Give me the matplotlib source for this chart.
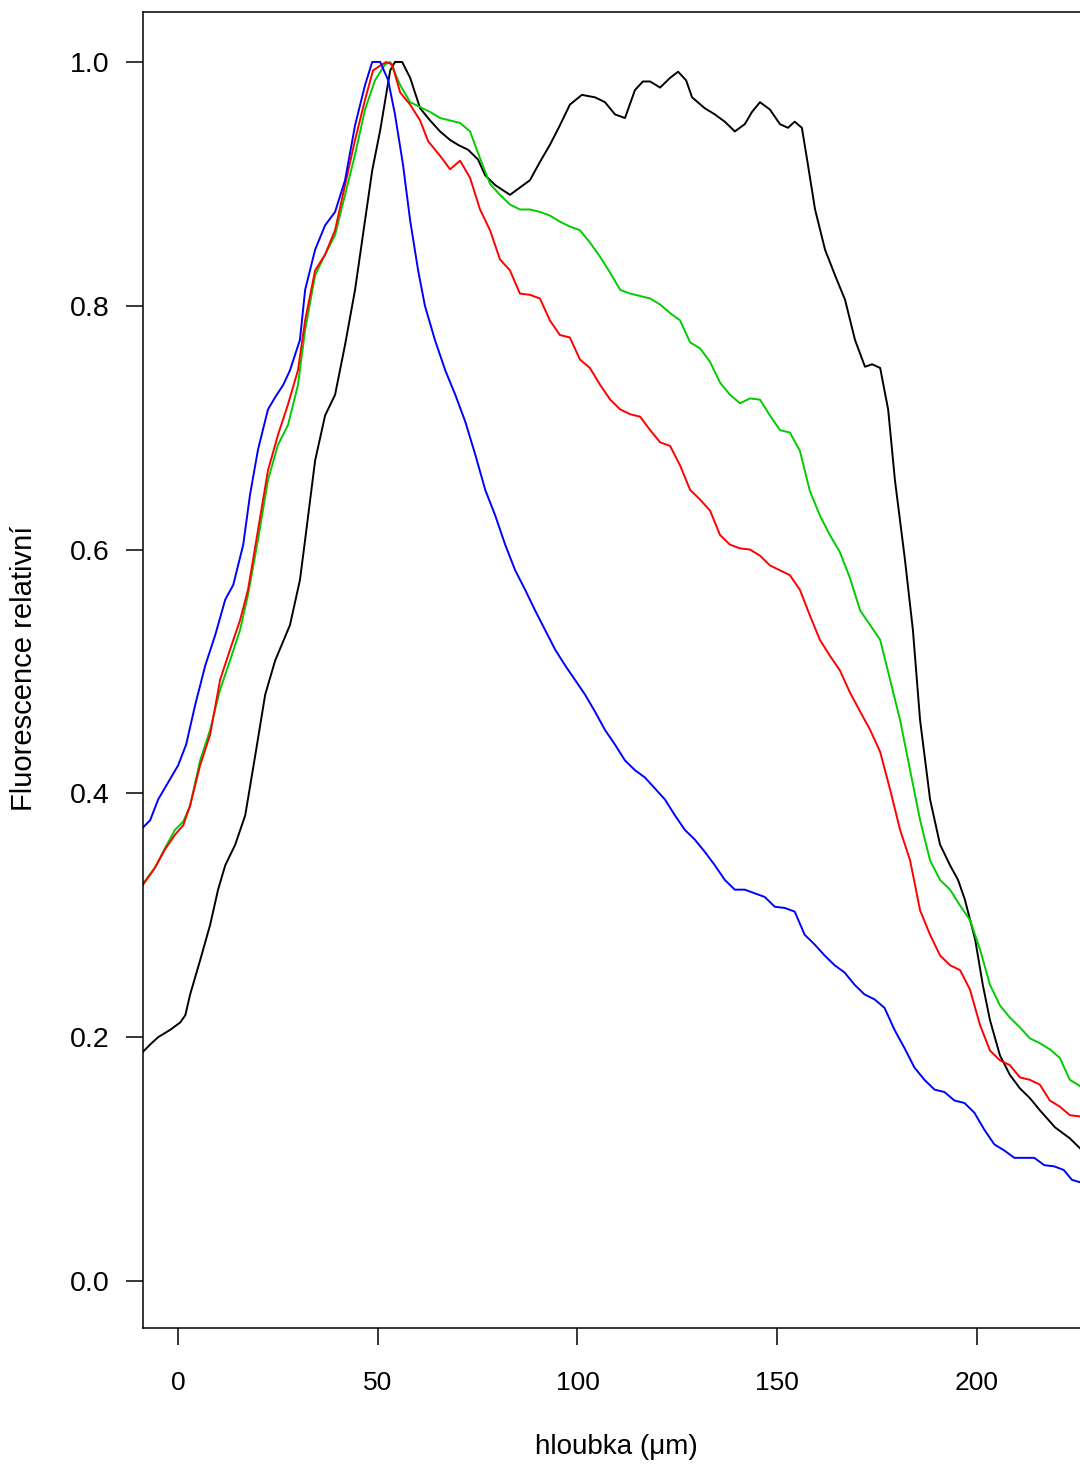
import matplotlib
matplotlib.use("Agg")
import matplotlib.pyplot as plt

plt.rcParams['font.family'] = ['Liberation Sans', 'DejaVu Sans']

# hloubka (um) / relativni fluorescence
x_black = [-8.8, -7.0, -5.0, -2.0, 0.5, 1.8, 3.0, 5.5, 8.0, 10.0, 11.8, 14.3, 16.8, 19.3, 21.8,
           24.3, 28.0, 30.5, 31.8, 34.3, 36.8, 39.3, 41.8, 44.3, 46.8, 48.6, 50.6, 53.1, 54.3,
           56.1, 58.1, 60.6, 63.1, 65.6, 68.1, 70.1, 72.6, 75.1, 76.9, 79.4, 83.1, 85.6, 88.1,
           90.6, 93.1, 95.6, 98.1, 101.1, 104.4, 106.9, 109.4, 111.9, 114.4, 116.4, 118.2,
           120.7, 123.2, 125.2, 127.2, 128.7, 131.9, 134.4, 136.9, 139.4, 141.9, 143.7, 145.7,
           148.2, 150.7, 152.7, 154.4, 156.2, 157.7, 159.5, 162.0, 164.5, 167.0, 169.5, 172.0,
           173.8, 175.8, 177.8, 179.5, 182.0, 184.0, 185.8, 188.3, 190.8, 193.3, 195.3, 197.0,
           199.6, 201.5, 203.3, 205.8, 208.3, 210.8, 213.3, 215.8, 219.6, 223.3, 225.8]
y_black = [0.188, 0.194, 0.200, 0.206, 0.212, 0.218, 0.235, 0.263, 0.292, 0.321, 0.341, 0.358,
           0.382, 0.431, 0.481, 0.509, 0.538, 0.575, 0.608, 0.673, 0.710, 0.727, 0.768, 0.813,
           0.870, 0.911, 0.944, 0.993, 1.000, 1.000, 0.987, 0.962, 0.952, 0.943, 0.936, 0.932,
           0.928, 0.920, 0.907, 0.899, 0.891, 0.897, 0.903, 0.918, 0.932, 0.948, 0.965, 0.973,
           0.971, 0.967, 0.957, 0.954, 0.977, 0.984, 0.984, 0.979, 0.987, 0.992, 0.985, 0.971,
           0.962, 0.957, 0.951, 0.943, 0.949, 0.959, 0.967, 0.961, 0.949, 0.946, 0.951, 0.946,
           0.916, 0.879, 0.846, 0.825, 0.805, 0.772, 0.750, 0.752, 0.749, 0.715, 0.657, 0.592,
           0.534, 0.460, 0.395, 0.358, 0.341, 0.329, 0.313, 0.280, 0.243, 0.214, 0.185, 0.169,
           0.158, 0.150, 0.140, 0.126, 0.117, 0.109]

x_green = [-8.8, -5.8, -3.3, -0.8, 1.3, 3.0, 5.5, 8.0, 10.5, 13.0, 15.5, 17.5, 20.0, 22.5, 25.0,
           27.5, 30.0, 31.8, 34.3, 36.8, 39.3, 41.8, 44.3, 46.8, 49.3, 51.8, 53.1, 55.6, 58.1,
           60.6, 63.1, 65.6, 68.1, 70.6, 73.1, 75.6, 78.1, 80.6, 83.1, 85.6, 88.1, 90.6, 93.1,
           95.6, 98.1, 100.6, 103.1, 105.7, 108.2, 110.7, 113.2, 115.7, 118.2, 120.7, 123.2,
           125.7, 128.2, 130.7, 133.2, 135.7, 138.2, 140.7, 143.2, 145.7, 148.2, 150.7, 153.2,
           155.7, 158.2, 160.7, 163.2, 165.7, 168.2, 170.8, 173.3, 175.8, 178.3, 180.8, 183.3,
           185.8, 188.3, 190.8, 193.3, 195.8, 198.3, 200.8, 203.3, 205.8, 208.3, 210.8, 213.3,
           215.8, 218.3, 220.8, 223.3, 225.8]
y_green = [0.326, 0.339, 0.355, 0.370, 0.377, 0.390, 0.427, 0.452, 0.485, 0.509, 0.534, 0.563,
           0.608, 0.657, 0.686, 0.702, 0.735, 0.780, 0.825, 0.842, 0.858, 0.891, 0.924, 0.961,
           0.985, 0.998, 1.000, 0.981, 0.967, 0.963, 0.959, 0.954, 0.952, 0.950, 0.943, 0.921,
           0.900, 0.891, 0.883, 0.879, 0.879, 0.877, 0.874, 0.869, 0.865, 0.862, 0.852, 0.840,
           0.827, 0.813, 0.810, 0.808, 0.806, 0.801, 0.794, 0.788, 0.770, 0.765, 0.754, 0.737,
           0.727, 0.720, 0.724, 0.723, 0.710, 0.698, 0.696, 0.681, 0.648, 0.628, 0.612, 0.598,
           0.577, 0.550, 0.538, 0.526, 0.493, 0.460, 0.419, 0.378, 0.345, 0.329, 0.321, 0.308,
           0.296, 0.272, 0.243, 0.226, 0.216, 0.208, 0.199, 0.195, 0.190, 0.183, 0.165, 0.160]

x_red = [-8.8, -5.8, -3.3, -0.8, 1.3, 3.0, 5.5, 8.0, 10.5, 13.0, 15.5, 17.5, 20.0, 22.5, 25.0,
         27.5, 30.0, 31.8, 34.3, 36.8, 39.3, 41.8, 44.3, 46.8, 48.8, 50.6, 52.1, 53.6, 55.6, 58.1,
         60.6, 62.6, 65.6, 68.1, 70.6, 73.1, 75.6, 78.1, 80.6, 83.1, 85.6, 88.1, 90.6, 93.1,
         95.6, 98.1, 100.6, 103.1, 105.7, 108.2, 110.7, 113.2, 115.7, 118.2, 120.7, 123.2,
         125.7, 128.2, 130.7, 133.2, 135.7, 138.2, 140.7, 143.2, 145.7, 148.2, 150.7, 153.2,
         155.7, 158.2, 160.7, 163.2, 165.7, 168.2, 170.8, 173.3, 175.8, 178.3, 180.8, 183.3,
         185.8, 188.3, 190.8, 193.3, 195.8, 198.3, 200.8, 203.3, 205.8, 208.3, 210.8, 213.3,
         215.8, 218.3, 220.8, 223.3, 225.8]
y_red = [0.325, 0.339, 0.354, 0.366, 0.374, 0.390, 0.423, 0.448, 0.493, 0.518, 0.542, 0.567,
         0.616, 0.665, 0.694, 0.719, 0.747, 0.788, 0.829, 0.842, 0.862, 0.899, 0.936, 0.969,
         0.993, 0.997, 1.000, 0.998, 0.975, 0.965, 0.952, 0.935, 0.923, 0.912, 0.919, 0.905,
         0.879, 0.862, 0.838, 0.829, 0.810, 0.809, 0.806, 0.788, 0.776, 0.774, 0.756, 0.749,
         0.735, 0.723, 0.715, 0.711, 0.709, 0.698, 0.688, 0.685, 0.669, 0.649, 0.641, 0.632,
         0.612, 0.604, 0.601, 0.600, 0.595, 0.587, 0.583, 0.579, 0.567, 0.546, 0.526, 0.513,
         0.501, 0.483, 0.467, 0.452, 0.434, 0.403, 0.370, 0.345, 0.304, 0.284, 0.267, 0.259,
         0.255, 0.239, 0.210, 0.189, 0.181, 0.177, 0.167, 0.165, 0.161, 0.148, 0.143, 0.136,
         0.135]

x_blue = [-8.8, -7.0, -5.0, -2.5, 0.0, 2.0, 4.3, 6.8, 9.3, 11.8, 13.8, 16.3, 18.0, 20.0, 22.5,
          24.3, 26.3, 28.0, 30.5, 31.8, 34.3, 36.8, 39.3, 41.8, 44.3, 46.8, 48.6, 50.6, 52.6,
          54.3, 56.3, 58.1, 60.1, 61.8, 64.3, 66.9, 69.4, 71.9, 74.4, 76.9, 79.4, 81.9, 84.4,
          86.9, 89.4, 91.9, 94.4, 96.9, 99.4, 101.9, 104.4, 106.9, 109.4, 111.9, 114.4, 116.9,
          119.4, 121.9, 124.4, 126.9, 129.4, 131.9, 134.4, 136.9, 139.4, 141.9, 144.4, 146.9,
          149.4, 151.9, 154.4, 156.9, 159.4, 161.9, 164.4, 166.9, 169.4, 171.9, 174.4, 176.9,
          179.4, 181.9, 184.4, 186.9, 189.4, 191.9, 194.4, 196.9, 199.4, 201.9, 204.4, 206.9,
          209.4, 211.9, 214.4, 216.9, 219.4, 221.8, 223.8, 225.8]
y_blue = [0.372, 0.378, 0.395, 0.409, 0.423, 0.440, 0.473, 0.505, 0.530, 0.559, 0.571, 0.604,
          0.645, 0.682, 0.715, 0.725, 0.735, 0.747, 0.772, 0.813, 0.846, 0.866, 0.877, 0.903,
          0.948, 0.981, 1.000, 1.000, 0.985, 0.957, 0.916, 0.870, 0.829, 0.800, 0.772, 0.747,
          0.727, 0.705, 0.678, 0.649, 0.628, 0.604, 0.583, 0.567, 0.550, 0.534, 0.518, 0.505,
          0.493, 0.481, 0.467, 0.452, 0.440, 0.427, 0.419, 0.413, 0.404, 0.395, 0.382, 0.370,
          0.362, 0.352, 0.341, 0.329, 0.321, 0.321, 0.318, 0.315, 0.307, 0.306, 0.303, 0.284,
          0.276, 0.267, 0.259, 0.253, 0.243, 0.235, 0.231, 0.224, 0.206, 0.191, 0.175, 0.165,
          0.157, 0.155, 0.148, 0.146, 0.138, 0.124, 0.112, 0.107, 0.101, 0.101, 0.101, 0.095,
          0.094, 0.091, 0.083, 0.081]

xticks = [0, 50, 100, 150, 200]
yticks = [0.0, 0.2, 0.4, 0.6, 0.8, 1.0]

fig = plt.figure(figsize=(10.8, 14.65), dpi=100)
# pravy okraj grafu je za hranou obrazku (orezano)
ax = fig.add_axes([143 / 1080, 1 - 1328 / 1465, (1089 - 143) / 1080, (1328 - 12) / 1465])

lw = 1.4
ax.plot(x_black, y_black, color='black', lw=lw)
ax.plot(x_green, y_green, color='#00cd00', lw=lw)
ax.plot(x_red, y_red, color='red', lw=lw)
ax.plot(x_blue, y_blue, color='blue', lw=lw)

ax.set_xlim(-8.8, 228.1)
ax.set_ylim(-0.0386, 1.041)
ax.set_xticks(xticks)
ax.set_xticklabels([str(t) for t in xticks])
ax.set_yticks(yticks)
ax.set_yticklabels(['%.1f' % t for t in yticks])
ax.tick_params(direction='out', length=12, width=1.1)
ax.tick_params(axis='x', pad=19, labelsize=19)
ax.tick_params(axis='y', pad=12, labelsize=20.5)
for s in ax.spines.values():
    s.set_linewidth(1.1)
ax.spines['right'].set_visible(False)

fig.text(616 / 1080, 1 - 1447 / 1465, 'hloubka (μm)', ha='center', va='center', fontsize=20)
fig.text(24 / 1080, 1 - 668 / 1465, 'Fluorescence relativní', ha='center', va='center',
         rotation=90, fontsize=21)

fig.savefig('out.png', dpi=100)
